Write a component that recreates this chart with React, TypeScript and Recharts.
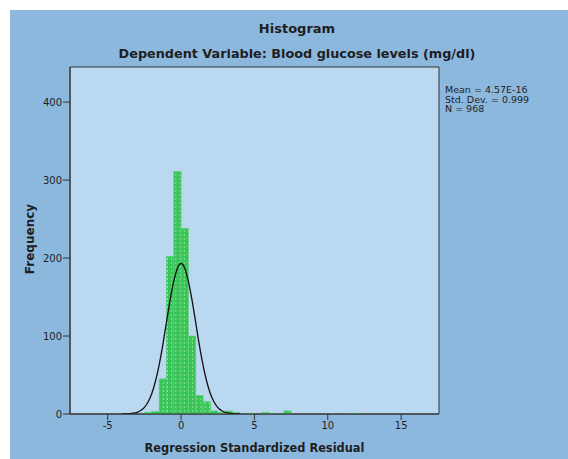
import { Bar, CartesianGrid, ComposedChart, Line, ReferenceArea, XAxis, YAxis } from "recharts";

// histogram bins (width 0.5), centre of each bin and its frequency
const binCenters = [-2.25, -1.75, -1.25, -0.75, -0.25, 0.25, 0.75, 1.25, 1.75, 2.25, 2.75, 3.25, 3.75, 4.75, 5.75, 6.25, 7.25, 11.75];
const counts = [2, 3, 45, 202, 311, 238, 100, 24, 16, 4, 2, 4, 2, 1, 2, 1, 4, 1];
const binWidth = 0.5;

// normal curve
const curveX = [-4, -3.75, -3.5, -3.25, -3, -2.75, -2.5, -2.25, -2, -1.75, -1.5, -1.25, -1, -0.75, -0.5, -0.25, 0, 0.25, 0.5, 0.75, 1, 1.25, 1.5, 1.75, 2, 2.25, 2.5, 2.75, 3, 3.25, 3.5, 3.75, 4];
const curveY = [0.1, 0.2, 0.4, 1, 2.1, 4.4, 8.5, 15.4, 26, 41.7, 62.5, 88, 117, 145.6, 170, 187, 193, 187, 170, 145.6, 117, 88, 62.5, 41.7, 26, 15.4, 8.5, 4.4, 2.1, 1, 0.4, 0.2, 0.1];

const xTicks = [-5, 0, 5, 10, 15];
const yTicks = [0, 100, 200, 300, 400];
const xDomain = [-7.57, 17.58];
const yDomain = [0, 445];

const stats = ["Mean = 4.57E-16", "Std. Dev. = 0.999", "N = 968"];

const bins = binCenters.map((x, i) => ({ x, count: counts[i] }));
const curve = curveX.map((x, i) => ({ x, y: curveY[i] }));

const FONT = "'DejaVu Sans', sans-serif";
const TEXT = "#1e1e1e";

const CHART_W = 558;
const CHART_H = 449;
const MARGIN = { top: 57, right: 129, bottom: 15, left: 0 };
const Y_AXIS_W = 60;
// pixel width of one bin along the x axis
const plotW = CHART_W - MARGIN.left - MARGIN.right - Y_AXIS_W;
const BIN_PX = (binWidth * plotW) / (xDomain[1] - xDomain[0]);

function HistBar(props: any) {
  const { x, y, width, height } = props;
  if (!height || height <= 0) return null;
  const cx = x + width / 2;
  return (
    <rect
      x={cx - BIN_PX / 2}
      y={y}
      width={BIN_PX}
      height={height}
      fill="url(#spssDots)"
      stroke="#5ccf78"
      strokeWidth={0.6}
    />
  );
}

export default function App() {
  return (
    <div
      style={{
        position: "absolute",
        left: 10,
        top: 10,
        width: CHART_W,
        height: CHART_H,
        background: "#8db8de",
        overflow: "hidden",
        fontFamily: FONT,
        color: TEXT,
      }}
    >
      <div style={{ position: "absolute", left: 87, width: 400, top: 10, textAlign: "center", fontSize: 13, fontWeight: "bold", lineHeight: "18px" }}>
        Histogram
      </div>
      <div style={{ position: "absolute", left: 37, width: 500, top: 35, textAlign: "center", fontSize: 12.8, fontWeight: "bold", lineHeight: "18px" }}>
        Dependent Variable: Blood glucose levels (mg/dl)
      </div>
      <div style={{ position: "absolute", left: 435, top: 75, fontSize: 9.5, lineHeight: "9.5px" }}>
        {stats.map((s) => (
          <div key={s}>{s}</div>
        ))}
      </div>
      <div
        style={{
          position: "absolute",
          left: 20,
          top: 229,
          transform: "translate(-50%, -50%) rotate(-90deg)",
          fontSize: 12,
          fontWeight: "bold",
          whiteSpace: "nowrap",
        }}
      >
        Frequency
      </div>
      <div
        style={{
          position: "absolute",
          left: 244.5,
          top: 438,
          transform: "translate(-50%, -50%)",
          fontSize: 11.4,
          fontWeight: "bold",
          whiteSpace: "nowrap",
        }}
      >
        Regression Standardized Residual
      </div>

      <ComposedChart width={CHART_W} height={CHART_H} data={bins} margin={MARGIN}>
        <defs>
          <pattern id="spssDots" patternUnits="userSpaceOnUse" width={4.2} height={4}>
            <rect width={4.2} height={4} fill="#38c45a" />
            <line x1={2} y1={0} x2={2} y2={2} stroke="#d9f0a8" strokeWidth={0.8} strokeOpacity={0.8} />
          </pattern>
        </defs>
        <CartesianGrid fill="#bad8f0" horizontal={false} vertical={false} />
        <XAxis
          type="number"
          dataKey="x"
          domain={xDomain}
          ticks={xTicks}
          allowDataOverflow
          height={30}
          tickSize={6}
          tickMargin={2}
          axisLine={{ stroke: "#333" }}
          tickLine={{ stroke: "#333" }}
          tick={{ fill: TEXT, fontSize: 10, fontFamily: FONT }}
        />
        <YAxis
          type="number"
          domain={yDomain}
          ticks={yTicks}
          allowDataOverflow
          width={Y_AXIS_W}
          tickSize={7}
          tickMargin={1}
          axisLine={{ stroke: "#333" }}
          tickLine={{ stroke: "#333" }}
          tick={{ fill: TEXT, fontSize: 10, fontFamily: FONT }}
        />
        <Bar dataKey="count" shape={HistBar} isAnimationActive={false} />
        <Line data={curve} dataKey="y" type="monotone" stroke="#111" strokeWidth={1.3} dot={false} activeDot={false} isAnimationActive={false} />
        <ReferenceArea x1={xDomain[0]} x2={xDomain[1]} y1={yDomain[0]} y2={yDomain[1]} fill="none" stroke="#333" strokeWidth={1} />
      </ComposedChart>
    </div>
  );
}
